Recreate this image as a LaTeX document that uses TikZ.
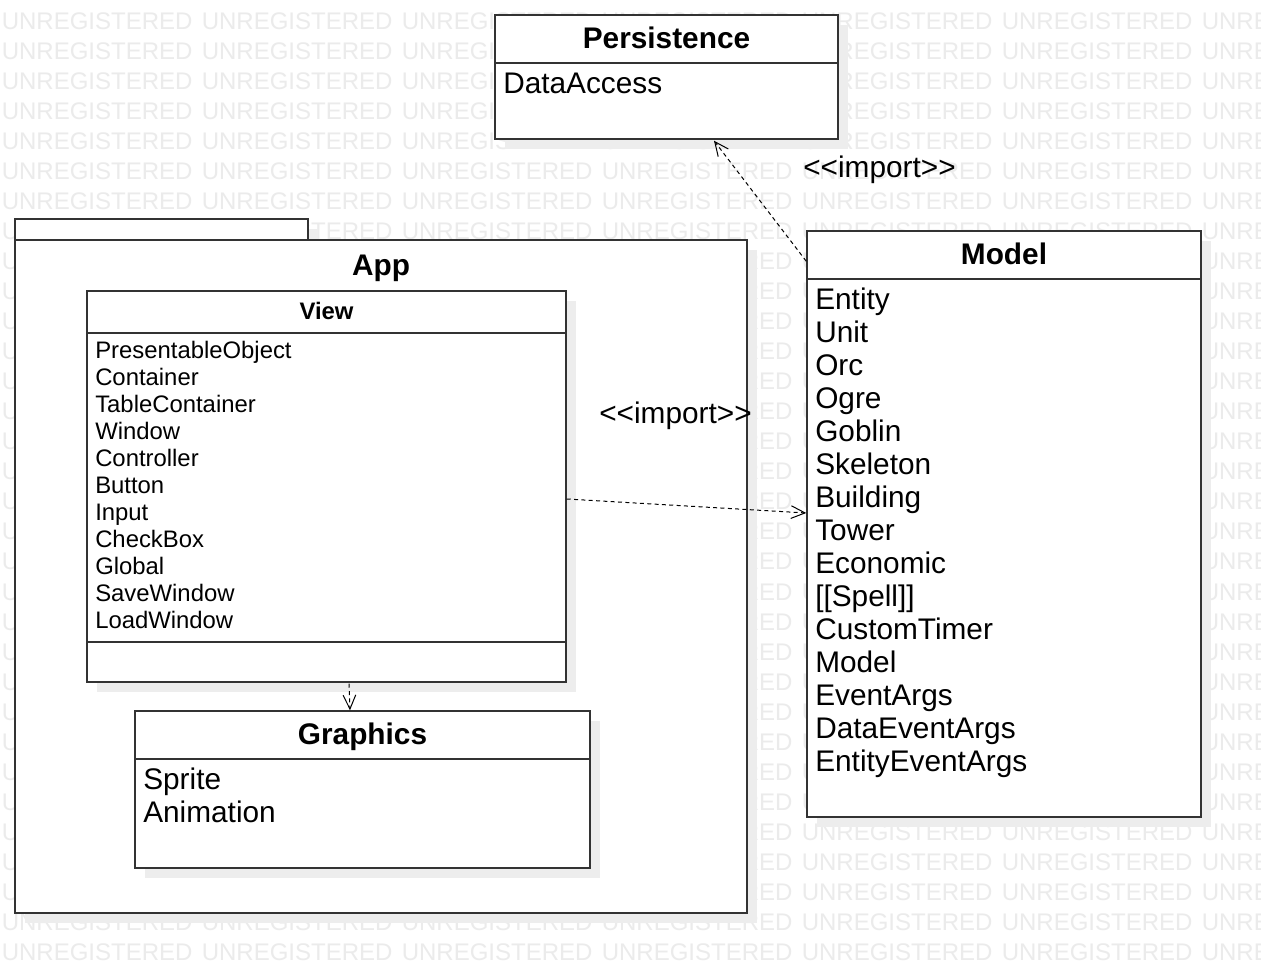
\documentclass[tikz,border=0pt]{standalone}
\usepackage{fontspec}
\newfontfamily\umlfont{Liberation Sans}
\usetikzlibrary{arrows.meta,calc,fit,shadows}

\tikzset{boxline/.style={line width=1.1pt,draw=black!80},
  classbox/.style={boxline,fill=white,inner sep=0pt,
    general shadow={fill=black!7,shadow xshift=7.5pt,shadow yshift=-7.5pt}},
  dep/.style={line width=0.75pt,dash pattern=on 3pt off 2.5pt,
    -{Straight Barb[length=10.5pt,width=9.5pt]}},
  bigtitle/.style={inner sep=0pt,anchor=base,font=\umlfont\bfseries\fontsize{22.35}{26}\selectfont},
  smalltitle/.style={inner sep=0pt,anchor=base,font=\umlfont\bfseries\fontsize{17.9}{21}\selectfont},
  member/.style={inner sep=0pt,anchor=base west,font=\umlfont\fontsize{22.35}{26}\selectfont},
  smallmember/.style={inner sep=0pt,anchor=base west,font=\umlfont\fontsize{17.9}{21}\selectfont},
  watermark/.style={inner sep=0pt,anchor=base west,text=black!8,font=\umlfont\fontsize{18}{21}\selectfont}}

\begin{document}
\begin{tikzpicture}[x=0.75pt,y=-0.75pt]
        \useasboundingbox (0,0) rectangle (1261,973);
        \fill[white] (0,0) rectangle (1261,973);
        % watermark
        \begin{scope}
            \clip (0,0) rectangle (1261,973);
            \foreach \row in {0,...,31}
                \foreach \col in {0,...,6}
                    \node[watermark] (wm-\row-\col) at (200*\col+1.5,30+30*\row) {UNREGISTERED};
        \end{scope}
        % Persistence
        \node[classbox, fit={(495,15) (838,139)}] (persistence) {};
        \draw[boxline] (495,63) -- (838,63);
        \node[bigtitle] (perstitle) at (666.5,48.7) {Persistence};
        \node[member] (dataaccess) at (503,93.5) {DataAccess};
        % App package
        \node[classbox, fit={(15,219) (308,240)}] (apptab) {};
        \node[classbox, fit={(15,240) (747,913)}] (app) {};
        \node[bigtitle] (apptitle) at (381,275.7) {App};
        % View
        \node[classbox, fit={(87,291) (566,682)}] (view) {};
        \draw[boxline] (87,333) -- (566,333);
        \draw[boxline] (87,642) -- (566,642);
        \node[smalltitle] (viewtitle) at (326.5,319.5) {View};
        \foreach \cls [count=\i from 0] in {PresentableObject,Container,TableContainer,Window,
            Controller,Button,Input,CheckBox,Global,SaveWindow,LoadWindow}
            \node[smallmember] (v\i) at (95,358.5+27*\i) {\cls};
        % Graphics
        \node[classbox, fit={(135,711) (590,868)}] (graphics) {};
        \draw[boxline] (135,759) -- (590,759);
        \node[bigtitle] (graphtitle) at (362.5,744.7) {Graphics};
        \node[member] (sprite) at (143,789.5) {Sprite};
        \node[member] (animation) at (143,822.5) {Animation};
        % Model
        \node[classbox, fit={(807,231) (1201,817)}] (model) {};
        \draw[boxline] (807,279) -- (1201,279);
        \node[bigtitle] (modeltitle) at (1004,264.7) {Model};
        \foreach \cls [count=\i from 0] in {Entity,Unit,Orc,Ogre,Goblin,Skeleton,Building,Tower,
            Economic,{[[Spell]]},CustomTimer,Model,EventArgs,DataEventArgs,EntityEventArgs}
            \node[member] (m\i) at (815,309.3+33*\i) {\cls};
        % imports
        \draw[dep] ($(model.north west)+(0,31)$) -- ($(persistence.south)+(47.5,1)$);
        \node[member] (imptop) at (803,178) {<<import>>};
        \draw[dep] ($(view.east)+(0,12.5)$) -- ($(model.west)+(0,-11)$);
        \node[member] (impview) at (599,424) {<<import>>};
        \draw[dep] ($(view.south)+(22.5,1)$) -- ($(graphics.north)+(-12.5,0)$);
    \end{tikzpicture}
\end{document}
